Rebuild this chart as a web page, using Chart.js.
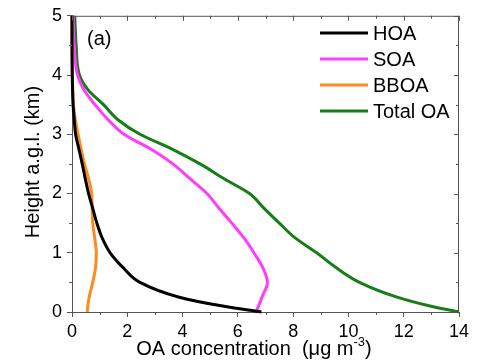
<!DOCTYPE html>
<html>
<head>
<meta charset="utf-8">
<script src="https://cdn.jsdelivr.net/npm/chart.js@4/dist/chart.umd.min.js"></script>
<style>
html,body{margin:0;padding:0;background:#fff;}
#wrap{width:477px;height:362px;position:relative;}
</style>
</head>
<body>
<div id="wrap"><canvas id="c" width="477" height="362"></canvas></div>
<script>
// Heights (km) at which concentrations were read
const heights = [0, 0.1, 0.25, 0.5, 0.75, 1, 1.25, 1.5, 1.75, 2, 2.25, 2.5, 2.75, 3, 3.25, 3.5, 3.75, 4, 4.5, 5];
// Concentrations (ug m-3)
const hoa   = [6.85, 5.45, 3.88, 2.46, 1.85, 1.38, 1.09, 0.90, 0.75, 0.60, 0.48, 0.37, 0.25, 0.13, 0.08, 0.04, 0.02, 0.01, 0, 0];
const soa   = [6.65, 6.75, 6.87, 7.07, 6.90, 6.58, 6.22, 5.78, 5.32, 4.88, 4.27, 3.65, 2.85, 1.88, 1.30, 0.83, 0.43, 0.20, 0.08, 0.04];
const bboa  = [0.55, 0.57, 0.62, 0.75, 0.85, 0.88, 0.82, 0.75, 0.73, 0.71, 0.60, 0.45, 0.33, 0.22, 0.12, 0.05, 0.03, 0.01, 0, 0];
const total = [14.0, 12.95, 11.76, 10.4, 9.55, 8.85, 8.07, 7.5, 6.95, 6.42, 5.5, 4.63, 3.62, 2.46, 1.65, 1.14, 0.58, 0.27, 0.15, 0.10];

const seriesNames = ['HOA', 'SOA', 'BBOA', 'Total OA'];
const seriesColors = ['#000000', '#ff3cff', '#ff8a1f', '#177d17'];
const seriesValues = [hoa, soa, bboa, total];

const xTicks = [0, 2, 4, 6, 8, 10, 12, 14];
const yTicks = [0, 1, 2, 3, 4, 5];
const panelLabel = '(a)';
const xTitleMain = 'OA concentration  (\u03bcg m';
const xTitleSup = '-3';
const xTitleEnd = ')';
const yTitle = 'Height a.g.l. (km)';

const AXIS = '#555555';
const FONT = '"Liberation Sans", Arial, sans-serif';

const datasets = seriesValues.map((vals, i) => ({
  label: seriesNames[i],
  data: vals.map((v, k) => ({x: v, y: heights[k]})),
  borderColor: seriesColors[i],
  backgroundColor: seriesColors[i],
  borderWidth: 3,
  pointRadius: 0,
  showLine: true,
  cubicInterpolationMode: 'monotone',
  fill: false,
  clip: false
}));

const extras = {
  id: 'extras',
  afterDraw(chart) {
    const ctx = chart.ctx;
    const xs = chart.scales.x, ys = chart.scales.y;
    const a = chart.chartArea;
    ctx.save();
    ctx.strokeStyle = AXIS;
    ctx.lineWidth = 1;
    // top and right frame
    ctx.beginPath();
    ctx.moveTo(a.left, a.top + 0.5); ctx.lineTo(a.right, a.top + 0.5);
    ctx.moveTo(a.right - 0.5, a.top); ctx.lineTo(a.right - 0.5, a.bottom);
    ctx.stroke();
    // ticks
    ctx.beginPath();
    for (let v = xs.min; v <= xs.max + 1e-9; v += 1) {
      const px = Math.round(xs.getPixelForValue(v)) + 0.5;
      const major = Math.abs(v % 2) < 1e-9;
      const len = major ? 5 : 3;
      if (!major) { ctx.moveTo(px, a.bottom); ctx.lineTo(px, a.bottom + len); }
      ctx.moveTo(px, a.top); ctx.lineTo(px, a.top + len);
    }
    for (let v = ys.min; v <= ys.max + 1e-9; v += 0.5) {
      const py = Math.round(ys.getPixelForValue(v)) + 0.5;
      const major = Math.abs(v % 1) < 1e-9;
      const len = major ? 5 : 3;
      if (!major) { ctx.moveTo(a.left, py); ctx.lineTo(a.left - len, py); }
      ctx.moveTo(a.right, py); ctx.lineTo(a.right - len, py);
    }
    ctx.stroke();

    // panel label
    ctx.fillStyle = '#000';
    ctx.font = '20px ' + FONT;
    ctx.textAlign = 'left';
    ctx.textBaseline = 'alphabetic';
    ctx.fillText(panelLabel, a.left + 15, a.top + 29);

    // legend
    const lx0 = 320, lx1 = 368, ly0 = 33, dy = 26;
    chart.data.datasets.forEach((ds, i) => {
      const y = ly0 + i * dy;
      ctx.strokeStyle = ds.borderColor;
      ctx.lineWidth = 3;
      ctx.beginPath(); ctx.moveTo(lx0, y); ctx.lineTo(lx1, y); ctx.stroke();
      ctx.fillStyle = '#000';
      ctx.font = '20px ' + FONT;
      ctx.textBaseline = 'middle';
      ctx.fillText(ds.label, lx1 + 5, y + 1);
    });

    // x title with superscript
    ctx.fillStyle = '#000';
    ctx.textBaseline = 'alphabetic';
    ctx.font = '20px ' + FONT;
    const w1 = ctx.measureText(xTitleMain).width;
    ctx.font = '13px ' + FONT;
    const w2 = ctx.measureText(xTitleSup).width;
    ctx.font = '20px ' + FONT;
    const w3 = ctx.measureText(xTitleEnd).width;
    const tw = w1 + w2 + w3;
    let tx = 254 - tw / 2;
    const tyb = 355;
    ctx.textAlign = 'left';
    ctx.fillText(xTitleMain, tx, tyb);
    ctx.font = '13px ' + FONT;
    ctx.fillText(xTitleSup, tx + w1, tyb - 9);
    ctx.font = '20px ' + FONT;
    ctx.fillText(xTitleEnd, tx + w1 + w2, tyb);

    // y title
    ctx.save();
    ctx.translate(33, 162);
    ctx.rotate(-Math.PI / 2);
    ctx.textAlign = 'center';
    ctx.textBaseline = 'middle';
    ctx.font = '20px ' + FONT;
    ctx.fillText(yTitle, 0, 0);
    ctx.restore();

    ctx.restore();
  }
};

new Chart(document.getElementById('c'), {
  type: 'scatter',
  data: { datasets },
  options: {
    indexAxis: 'y',
    responsive: false,
    animation: false,
    events: [],
    layout: { padding: { left: 0, right: 18, top: 15, bottom: 0 } },
    plugins: { legend: { display: false }, tooltip: { enabled: false }, title: { display: false } },
    scales: {
      x: {
        type: 'linear', position: 'bottom', min: 0, max: 14,
        afterBuildTicks: (s) => { s.ticks = xTicks.map(v => ({value: v})); },
        ticks: { color: '#000', font: { family: FONT, size: 18 }, padding: 4, maxRotation: 0, autoSkip: false },
        grid: { display: true, drawOnChartArea: false, drawTicks: true, tickLength: 5, color: AXIS, tickColor: AXIS },
        border: { display: true, color: AXIS, width: 1 },
        afterFit: (s) => { s.height = 50; }
      },
      y: {
        type: 'linear', position: 'left', min: 0, max: 5,
        afterBuildTicks: (s) => { s.ticks = yTicks.map(v => ({value: v})); },
        ticks: { color: '#000', font: { family: FONT, size: 18 }, padding: 5, autoSkip: false },
        grid: { display: true, drawOnChartArea: false, drawTicks: true, tickLength: 5, color: AXIS, tickColor: AXIS },
        border: { display: true, color: AXIS, width: 1 },
        afterFit: (s) => { s.width = 72; }
      }
    }
  },
  plugins: [extras]
});
</script>
</body>
</html>
